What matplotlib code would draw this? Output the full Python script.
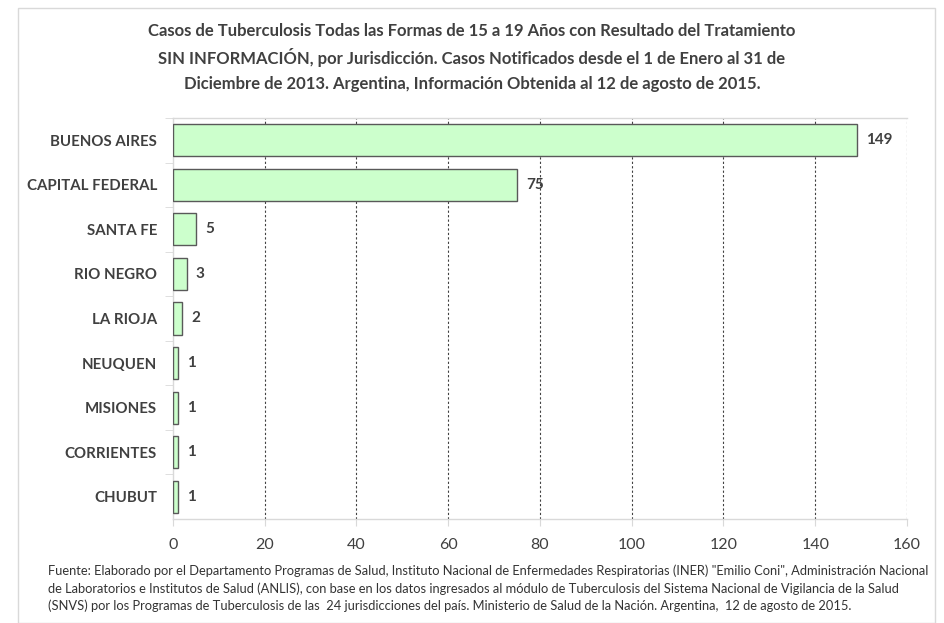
import matplotlib.pyplot as plt
from matplotlib.patches import Rectangle

# data
jurisdicciones = ['BUENOS AIRES', 'CAPITAL FEDERAL', 'SANTA FE', 'RIO NEGRO',
                  'LA RIOJA', 'NEUQUEN', 'MISIONES', 'CORRIENTES', 'CHUBUT']
casos = [149, 75, 5, 3, 2, 1, 1, 1, 1]
x_ticks = [0, 20, 40, 60, 80, 100, 120, 140, 160]

titulo = ['Casos de Tuberculosis Todas las Formas de 15 a 19 Años con Resultado del Tratamiento',
          'SIN INFORMACIÓN, por Jurisdicción. Casos Notificados desde el 1 de Enero al 31 de',
          'Diciembre de 2013. Argentina, Información Obtenida al 12 de agosto de 2015.']
fuente = ['Fuente: Elaborado por el Departamento Programas de Salud, Instituto Nacional de Enfermedades Respiratorias (INER) "Emilio Coni", Administración Nacional',
          'de Laboratorios e Institutos de Salud (ANLIS), con base en los datos ingresados al módulo de Tuberculosis del Sistema Nacional de Vigilancia de la Salud',
          '(SNVS) por los Programas de Tuberculosis de las  24 jurisdicciones del país. Ministerio de Salud de la Nación. Argentina,  12 de agosto de 2015.']

plt.rcParams['font.family'] = ['Lato', 'DejaVu Sans']
txt = '#404040'
grey_line = '#d9d9d9'

fig = plt.figure(figsize=(9.45, 6.23), dpi=100)
fig.patches.append(Rectangle((18 / 945, 0.0), 917 / 945, 1 - 8 / 623, transform=fig.transFigure,
                             fill=False, edgecolor=grey_line, linewidth=1))

ax = fig.add_axes([173 / 945, 1 - 519 / 623, (907 - 173) / 945, (519 - 118) / 623])

pos = list(range(len(jurisdicciones)))
ax.barh(pos, casos, height=0.72, color='#ccffcc', edgecolor='#595959', linewidth=1, zorder=3)
for p, v in zip(pos, casos):
    ax.text(v + 2, p, str(v), va='center', ha='left', fontsize=11,
            fontweight='bold', color=txt)

ax.set_ylim(len(jurisdicciones) - 0.5, -0.5)
ax.set_xlim(0, 160)
ax.set_xticks(x_ticks)
ax.set_xticklabels([str(t) for t in x_ticks], fontsize=11.5, color=txt)
ax.set_yticks(pos)
ax.set_yticklabels(jurisdicciones, fontsize=10.8, fontweight='bold', color=txt)
ax.set_yticks([p + 0.5 for p in pos[:-1]] + [-0.5], minor=True)

ax.tick_params(axis='y', which='major', length=0, pad=11.5)
ax.tick_params(axis='y', which='minor', length=6, color=grey_line)
ax.tick_params(axis='x', length=5, color=grey_line, pad=9)

for t in x_ticks[1:]:
    ax.axvline(t, color='#404040', linestyle=(0, (2, 2)), linewidth=0.8, zorder=1)

for s in ['left', 'bottom', 'top']:
    ax.spines[s].set_color(grey_line)
    ax.spines[s].set_linewidth(1)
ax.spines['right'].set_visible(False)

# title, one line at a time so the spacing stays even
for i, line in enumerate(titulo):
    fig.text(472 / 945, 1 - (31 + 26.5 * i) / 623, line, ha='center', va='center',
             fontsize=11.95, fontweight='bold', color=txt)

for i, line in enumerate(fuente):
    fig.text(48 / 945, 1 - (571 + 17.5 * i) / 623, line, ha='left', va='center',
             fontsize=9.25, color='#333333')

fig.savefig('out.png', dpi=100)
